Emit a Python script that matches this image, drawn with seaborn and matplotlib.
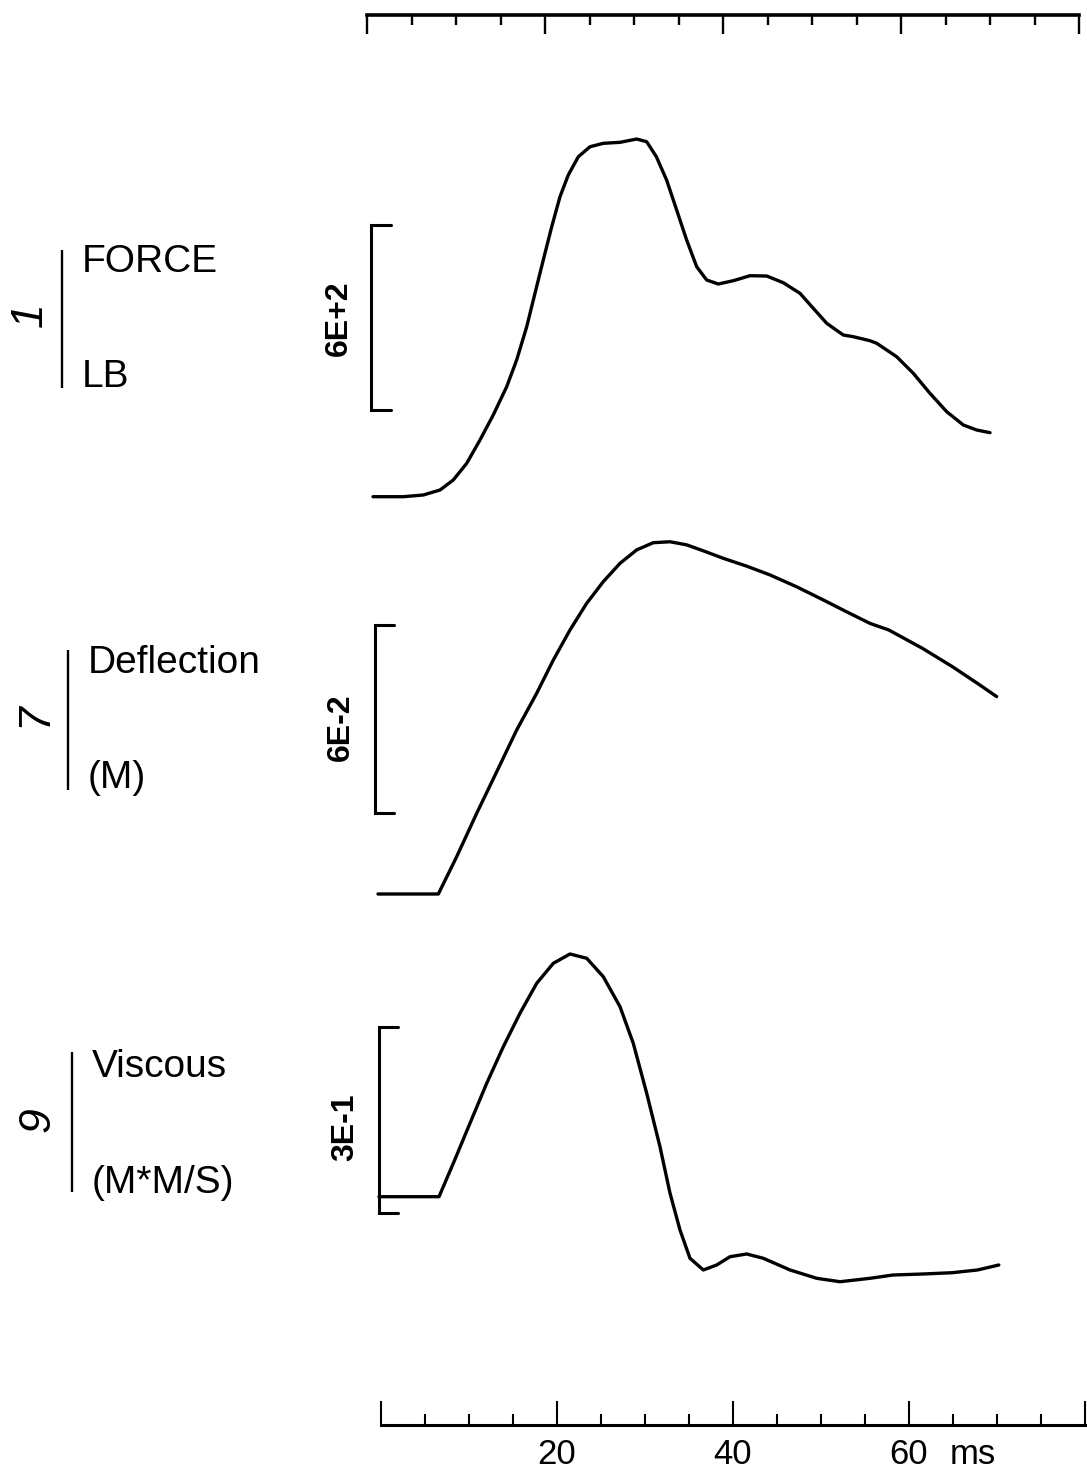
import matplotlib
matplotlib.use("Agg")
import matplotlib.pyplot as plt
from matplotlib.lines import Line2D
from matplotlib.ticker import MultipleLocator
import seaborn as sns
import pandas as pd

sns.set_style("white")
plt.rcParams['font.family'] = ['Liberation Sans', 'DejaVu Sans']
for k in ["text.color", "axes.labelcolor", "xtick.color", "ytick.color", "axes.edgecolor"]:
    plt.rcParams[k] = "black"

# ---------------- data ----------------
force_t = [0, 3.40, 5.65, 7.53, 9.02, 10.53, 12.02, 13.51, 15.02, 16.14, 17.27, 18.20, 19.13,
           20.08, 21.01, 21.94, 23.07, 24.38, 25.88, 27.75, 29.63, 30.75, 31.84, 32.99, 34.12,
           35.24, 36.37, 37.49, 38.80, 40.48, 42.36, 44.24, 46.10, 47.98, 49.47, 50.98, 52.84,
           53.97, 55.84, 56.60, 58.84, 60.71, 62.58, 64.46, 66.33, 67.83, 69.33]
force_v = [0, 0, 5.5, 21.7, 54.2, 108.3, 183.9, 265, 356.7, 443.3, 551.3, 659.6, 767.6,
           875.6, 972.9, 1043.3, 1102.6, 1135, 1146.1, 1149.3, 1160, 1151.3, 1102.6, 1027, 929.8,
           832.5, 745.9, 702.8, 689.8, 700.5, 716.7, 715.7, 694, 659.6, 611, 562.3, 524.4,
           518.9, 505.9, 497.5, 454, 400.2, 335.3, 275.7, 232.5, 216.3, 207.6]

deflection_t = [0, 6.78, 8.84, 11.09, 13.34, 15.58, 17.83, 19.70, 21.57, 23.45, 25.31, 27.19,
                29.07, 30.93, 32.81, 34.69, 36.55, 38.80, 41.43, 44.04, 47.04, 50.03, 52.66,
                55.28, 57.39, 61.19, 64.52, 67.37, 69.51]
deflection_v = [0, 0, 0.01192, 0.02580, 0.03909, 0.05242, 0.06416, 0.07480, 0.08439, 0.09293,
                0.09983, 0.1057, 0.1100, 0.1123, 0.1126, 0.1116, 0.1097, 0.1073, 0.1048,
                0.1020, 0.0982, 0.0940, 0.0902, 0.0865, 0.0844, 0.0785, 0.0727, 0.0673, 0.0631]

viscous_t = [0, 6.74, 8.35, 10.22, 12.10, 13.97, 15.84, 17.72, 19.58, 21.46, 23.34, 25.20,
             27.08, 28.57, 30.08, 31.57, 32.70, 33.82, 34.94, 36.44, 37.94, 39.44, 41.31,
             43.18, 46.18, 49.18, 51.80, 55.17, 57.75, 61.08, 64.40, 67.26, 69.64]
viscous_v = [0, 0, 0.0537, 0.1180, 0.1823, 0.2412, 0.2949, 0.3431, 0.3752, 0.3902, 0.3833,
             0.3537, 0.3055, 0.2466, 0.1662, 0.0804, 0.0055, -0.0535, -0.0990, -0.1178,
             -0.1098, -0.0965, -0.0921, -0.0990, -0.1178, -0.1312, -0.1367, -0.1312, -0.1259,
             -0.1243, -0.1222, -0.1178, -0.1098]

channel_numbers = ["1", "7", "9"]
channel_names = ["FORCE", "Deflection", "Viscous"]
channel_units = ["LB", "(M)", "(M*M/S)"]
scale_labels = ["6E+2", "6E-2", "3E-1"]
scale_spans = [600, 0.06, 0.3]
scale_lows = [281, 0.0260, -0.0267]

time_ticks = [20, 40, 60]
time_ticklabels = ["20", "40", "60"]
time_unit = "ms"

# ---------------- layout helpers ----------------
W, H = 1087, 1472
fig = plt.figure(figsize=(W / 100, H / 100), dpi=100)
fig.patch.set_facecolor("white")

PXMS = 8.9  # pixels per ms


def px_axes(left, top, right, bottom):
    ax = fig.add_axes([left / W, 1 - bottom / H, (right - left) / W, (bottom - top) / H])
    ax.set_facecolor("none")
    return ax


def fig_line(x1, y1, x2, y2, lw=1.6):
    fig.add_artist(Line2D([x1 / W, x2 / W], [1 - y1 / H, 1 - y2 / H],
                          transform=fig.transFigure, color="black", lw=lw,
                          solid_capstyle="butt"))


def fig_text(x, y, s, **kw):
    fig.text(x / W, 1 - y / H, s, **kw)


# panel geometry (pixel positions)
panels = [
    dict(t=force_t, v=force_v, x0=373, base=496.7, pxspan=185.0, top=100, bot=530,
         bx=(-0.2, 2.0), vline_x=62, vy=(250, 388), num=(30, 315), name_y=262, unit_y=377,
         text_x=82, scale_xy=(339, 318)),
    dict(t=deflection_t, v=deflection_v, x0=378, base=894.0, pxspan=187.7, top=505, bot=920,
         bx=(-0.3, 1.8), vline_x=68, vy=(650, 790), num=(35, 715), name_y=663, unit_y=778,
         text_x=88, scale_xy=(341, 727)),
    dict(t=viscous_t, v=viscous_v, x0=379, base=1196.7, pxspan=186.6, top=920, bot=1300,
         bx=(0.03, 2.1), vline_x=72, vy=(1052, 1192), num=(38, 1120), name_y=1067,
         unit_y=1183, text_x=92, scale_xy=(345, 1127)),
]

for i, p in enumerate(panels):
    upp = scale_spans[i] / p["pxspan"]
    L, R = p["x0"] - 20, p["x0"] + 80 * PXMS
    ax = px_axes(L, p["top"], R, p["bot"])
    ax.set_xlim((L - p["x0"]) / PXMS, (R - p["x0"]) / PXMS)
    ax.set_ylim((p["base"] - p["bot"]) * upp, (p["base"] - p["top"]) * upp)
    df = pd.DataFrame({"t": p["t"], "v": p["v"]})
    sns.lineplot(data=df, x="t", y="v", ax=ax, color="black", linewidth=2.4,
                 sort=False, estimator=None)
    ax.lines[-1].set_solid_joinstyle("round")
    ax.lines[-1].set_solid_capstyle("round")
    lo, hi = scale_lows[i], scale_lows[i] + scale_spans[i]
    b0, b1 = p["bx"]
    ax.plot([b1, b0, b0, b1], [lo, lo, hi, hi], color="black", lw=2.2,
            solid_joinstyle="miter")
    ax.set_axis_off()

    # scale label (rotated)
    fig_text(p["scale_xy"][0], p["scale_xy"][1], scale_labels[i], rotation=90,
             ha="center", va="center", fontsize=23, fontweight="bold")
    # left channel descriptor
    fig_line(p["vline_x"], p["vy"][0], p["vline_x"], p["vy"][1], lw=1.7)
    fig_text(p["text_x"], p["name_y"], channel_names[i], ha="left", va="center", fontsize=28)
    fig_text(p["text_x"], p["unit_y"], channel_units[i], ha="left", va="center", fontsize=28)
    fig_text(p["num"][0], p["num"][1], channel_numbers[i], rotation=90, ha="center",
             va="center", fontsize=32, fontstyle="italic")

# ---------------- top time ruler ----------------
axt = px_axes(367, 15, 367 + 80 * PXMS, 60)
axt.set_xlim(0, 80)
axt.set_ylim(0, 1)
for s in ["left", "right", "bottom"]:
    axt.spines[s].set_visible(False)
axt.spines["top"].set_linewidth(2.6)
axt.xaxis.set_ticks_position("top")
axt.xaxis.set_major_locator(MultipleLocator(20))
axt.xaxis.set_minor_locator(MultipleLocator(5))
axt.tick_params(axis="x", which="both", top=True, bottom=False, labeltop=False,
                labelbottom=False, direction="in")
axt.tick_params(axis="x", which="major", length=14, width=1.7)
axt.tick_params(axis="x", which="minor", length=7, width=1.7)
axt.set_yticks([])

# ---------------- bottom time ruler ----------------
BPX = 8.8
LABEL_PAD = 9
axb = px_axes(381, 1380, 381 + 80 * BPX, 1425)
axb.set_xlim(0, 80)
axb.set_ylim(0, 1)
for s in ["left", "right", "top"]:
    axb.spines[s].set_visible(False)
axb.spines["bottom"].set_linewidth(2.2)
axb.set_xticks([0] + time_ticks + [80])
axb.set_xticklabels([""] + time_ticklabels + [""], fontsize=25)
axb.xaxis.set_minor_locator(MultipleLocator(5))
axb.tick_params(axis="x", which="both", bottom=True, top=False, direction="in")
axb.tick_params(axis="x", which="major", length=17, width=1.5, pad=LABEL_PAD)
axb.tick_params(axis="x", which="minor", length=8, width=1.5)
axb.set_yticks([])
fig_text(973, 1425 + LABEL_PAD * 100 / 72, time_unit, ha="center", va="top", fontsize=25)

fig.savefig("out.png", dpi=100, facecolor="white")
